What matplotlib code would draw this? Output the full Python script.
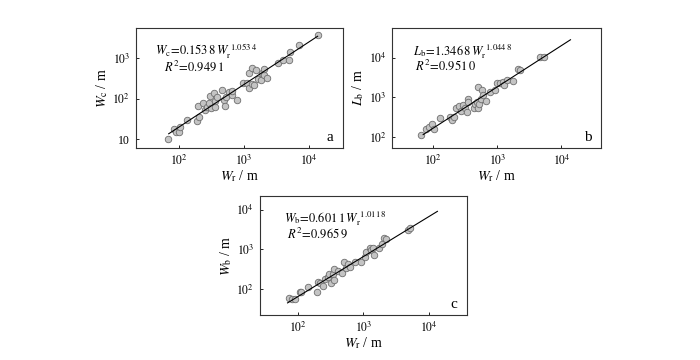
import matplotlib
matplotlib.use('Agg')
import matplotlib.pyplot as plt
import numpy as np

plt.rcParams['font.family'] = ['Liberation Serif', 'DejaVu Serif']
plt.rcParams['mathtext.fontset'] = 'stix'

# panel a: Wr vs Wc (log10 values)
a_wr = [1.84, 1.92, 1.96, 2.00, 2.02, 2.13, 2.28, 2.31, 2.29, 2.37, 2.40, 2.43, 2.47, 2.48,
        2.50, 2.54, 2.55, 2.56, 2.58, 2.66, 2.69, 2.71, 2.72, 2.77, 2.81, 2.82, 2.89, 2.98,
        3.04, 3.07, 3.08, 3.13, 3.13, 3.15, 3.18, 3.22, 3.26, 3.27, 3.30, 3.31, 3.35, 3.52,
        3.60, 3.69, 3.71, 3.84, 4.13]
a_wc = [1.00, 1.24, 1.18, 1.18, 1.29, 1.48, 1.45, 1.55, 1.81, 1.89, 1.71, 1.80, 1.88, 2.06,
        1.76, 2.14, 1.80, 1.94, 2.03, 2.21, 1.96, 1.81, 2.04, 2.16, 2.08, 2.19, 1.96, 2.39,
        2.38, 2.62, 2.25, 2.36, 2.76, 2.33, 2.70, 2.49, 2.47, 2.62, 2.57, 2.74, 2.51, 2.88,
        2.94, 2.96, 3.15, 3.31, 3.56]

# panel b: Wr vs Lb
b_wr = [1.81, 1.89, 1.93, 1.99, 2.02, 2.11, 2.26, 2.29, 2.32, 2.36, 2.41, 2.44, 2.47, 2.50,
        2.53, 2.54, 2.55, 2.64, 2.65, 2.68, 2.70, 2.70, 2.72, 2.74, 2.76, 2.77, 2.83, 2.89,
        2.96, 3.00, 3.04, 3.09, 3.11, 3.15, 3.25, 3.32, 3.36, 3.67, 3.72]
b_lb = [2.04, 2.21, 2.24, 2.32, 2.19, 2.48, 2.49, 2.42, 2.51, 2.72, 2.78, 2.66, 2.80, 2.74,
        2.63, 2.97, 2.89, 2.72, 2.82, 2.89, 3.27, 2.74, 2.84, 2.97, 3.18, 3.05, 2.90, 3.14,
        3.18, 3.37, 3.37, 3.38, 3.30, 3.45, 3.41, 3.71, 3.69, 4.03, 4.03]

# panel c: Wr vs Wb
c_wr = [1.86, 1.92, 1.96, 2.03, 2.05, 2.15, 2.30, 2.31, 2.34, 2.38, 2.41, 2.46, 2.48, 2.51,
        2.54, 2.55, 2.56, 2.61, 2.68, 2.71, 2.74, 2.77, 2.79, 2.88, 2.97, 3.02, 3.04, 3.10,
        3.12, 3.15, 3.16, 3.24, 3.28, 3.31, 3.35, 3.68, 3.71]
c_wb = [1.76, 1.75, 1.75, 1.91, 1.93, 2.04, 1.91, 2.17, 2.16, 2.08, 2.24, 2.31, 2.37, 2.14,
        2.38, 2.23, 2.50, 2.44, 2.41, 2.69, 2.52, 2.63, 2.55, 2.69, 2.69, 2.81, 2.92, 3.03,
        2.99, 3.03, 2.86, 3.03, 3.14, 3.28, 3.26, 3.49, 3.53]

# fitted power laws: y = k * x**p
fits = {
    'a': (0.1538, 1.0534, 70, 13500),
    'b': (1.3468, 1.0448, 70, 13800),
    'c': (0.6011, 1.0118, 70, 13500),
}

eqs = {
    'a': (r'$W_{\rm c}\!=\!0.153\,8\,W_{\rm r}^{\ 1.053\,4}$', r'$R^2\!=\!0.949\,1$'),
    'b': (r'$L_{\rm b}\!=\!1.346\,8\,W_{\rm r}^{\ 1.044\,8}$', r'$R^2\!=\!0.951\,0$'),
    'c': (r'$W_{\rm b}\!=\!0.601\,1\,W_{\rm r}^{\ 1.011\,8}$', r'$R^2\!=\!0.965\,9$'),
}
ylabels = {'a': r'$W_{\rm c}$ / m', 'b': r'$L_{\rm b}$ / m', 'c': r'$W_{\rm b}$ / m'}

x_ticks = [1e2, 1e3, 1e4]
x_ticklabels = [r'$10^2$', r'$10^3$', r'$10^4$']
y_ticks = {'a': [1e1, 1e2, 1e3], 'b': [1e2, 1e3, 1e4], 'c': [1e2, 1e3, 1e4]}
y_ticklabels = {'a': ['10', r'$10^2$', r'$10^3$'],
                'b': [r'$10^2$', r'$10^3$', r'$10^4$'],
                'c': [r'$10^2$', r'$10^3$', r'$10^4$']}
xlims = {'a': (10**1.34, 10**4.52), 'b': (10**1.36, 10**4.62), 'c': (10**1.42, 10**4.58)}
ylims = {'a': (10**0.78, 10**3.74), 'b': (10**1.72, 10**4.75), 'c': (10**1.34, 10**4.35)}

data = {'a': (a_wr, a_wc), 'b': (b_wr, b_lb), 'c': (c_wr, c_wb)}
rects = {'a': [0.194, 0.589, 0.296, 0.333],
         'b': [0.560, 0.589, 0.299, 0.333],
         'c': [0.371, 0.125, 0.296, 0.331]}
# baseline positions of the two equation lines (axes fraction)
eq_pos = {'a': ((0.092, 0.775), (0.135, 0.645)),
          'b': ((0.10, 0.775), (0.11, 0.65)),
          'c': ((0.116, 0.776), (0.13, 0.645))}

fig = plt.figure(figsize=(7, 3.6), dpi=100)

for key in ['a', 'b', 'c']:
    ax = fig.add_axes(rects[key])
    xs, ys = data[key]
    ax.scatter(10**np.array(xs), 10**np.array(ys), s=22, facecolor='#c4c4c4',
               edgecolor='#6e6e6e', linewidth=0.6, zorder=2)
    k, p, x0, x1 = fits[key]
    xl = np.logspace(np.log10(x0), np.log10(x1), 50)
    ax.plot(xl, k * xl**p, color='black', lw=0.8, zorder=3)
    ax.set_xscale('log')
    ax.set_yscale('log')
    ax.set_xlim(*xlims[key])
    ax.set_ylim(*ylims[key])
    ax.set_xticks(x_ticks)
    ax.set_xticklabels(x_ticklabels)
    ax.set_yticks(y_ticks[key])
    ax.set_yticklabels(y_ticklabels[key])
    ax.minorticks_off()
    ax.tick_params(direction='in', length=2.5, width=0.6, labelsize=8.5, pad=4)
    for sp in ax.spines.values():
        sp.set_linewidth(0.8)
        sp.set_color('#333333')
    ax.set_xlabel(r'$W_{\rm r}$ / m', fontsize=10, labelpad=0)
    ax.set_ylabel(ylabels[key], fontsize=10, labelpad=2)
    (p1, p2) = eq_pos[key]
    ax.text(p1[0], p1[1], eqs[key][0], transform=ax.transAxes, fontsize=9, va='baseline')
    ax.text(p2[0], p2[1], eqs[key][1], transform=ax.transAxes, fontsize=9, va='baseline')
    ax.text(0.935, 0.09, key, transform=ax.transAxes, fontsize=11, ha='center', va='center')

fig.savefig('out.png', dpi=100)
